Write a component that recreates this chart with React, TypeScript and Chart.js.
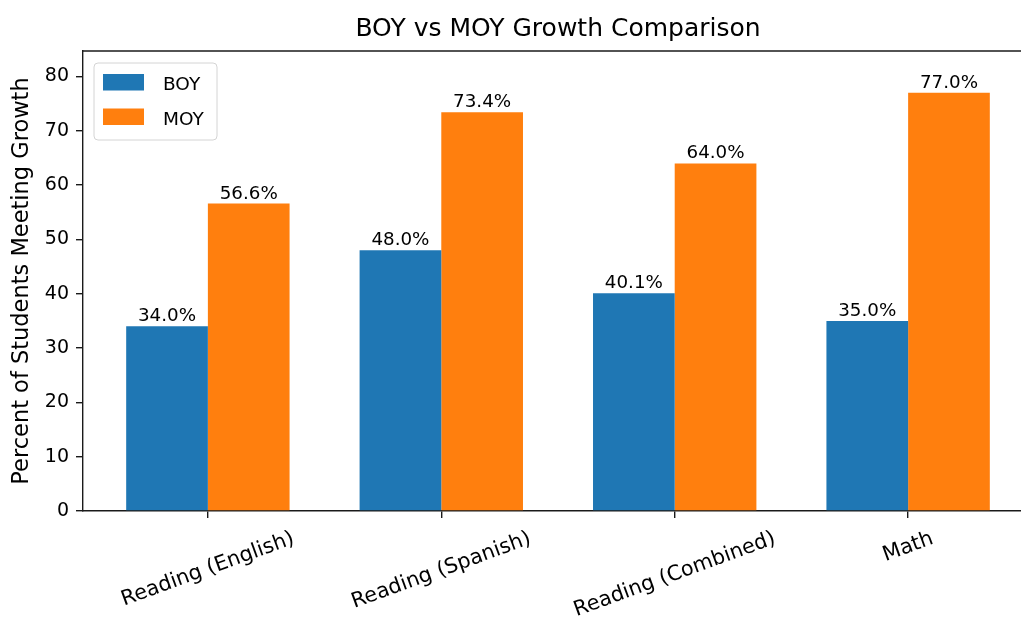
import React, { useEffect, useRef } from 'react';
import { Chart, registerables } from 'chart.js';

Chart.register(...registerables);

const categories = ['Reading (English)', 'Reading (Spanish)', 'Reading (Combined)', 'Math'];
const boyValues = [34.0, 48.0, 40.1, 35.0];
const moyValues = [56.6, 73.4, 64.0, 77.0];
const yTickValues = [0, 10, 20, 30, 40, 50, 60, 70, 80];
const seriesLabels = ['BOY', 'MOY'];
const seriesColors = ['#1f77b4', '#ff7f0e'];
const titleText = 'BOY vs MOY Growth Comparison';
const yAxisTitle = 'Percent of Students Meeting Growth';

const FONT = '"DejaVu Sans", sans-serif';
const CW = 1060;
const CH = 624;
const PLOT_LEFT = 83;
const PLOT_TOP = 51;
const PLOT_RIGHT = 1033;
const PLOT_BOTTOM = 511;
const SPINE = '#1a1a1a';

const decorPlugin = {
  id: 'decor',
  afterDraw(chart: any) {
    const ctx = chart.ctx;
    const area = chart.chartArea;
    const xs = chart.scales.x;
    ctx.save();
    // top spine
    ctx.strokeStyle = SPINE;
    ctx.lineWidth = 1.4;
    ctx.beginPath();
    ctx.moveTo(area.left - 0.7, area.top);
    ctx.lineTo(area.right + 0.7, area.top);
    ctx.stroke();

    ctx.fillStyle = '#000';
    // title
    ctx.font = `25px ${FONT}`;
    ctx.textAlign = 'center';
    ctx.textBaseline = 'alphabetic';
    ctx.fillText(titleText, (area.left + area.right) / 2, 36);

    // y axis title
    ctx.save();
    ctx.font = `22.5px ${FONT}`;
    ctx.translate(28, (area.top + area.bottom) / 2);
    ctx.rotate(-Math.PI / 2);
    ctx.textAlign = 'center';
    ctx.textBaseline = 'alphabetic';
    ctx.fillText(yAxisTitle, 0, 0);
    ctx.restore();

    // x tick labels rotated 20deg, bbox centered under tick
    const fs = 20.8;
    ctx.font = `${fs}px ${FONT}`;
    const ang = (20 * Math.PI) / 180;
    categories.forEach((lab, i) => {
      const x = xs.getPixelForValue(i);
      const w = ctx.measureText(lab).width;
      const h = fs * 1.05;
      const ext = w * Math.sin(ang) + h * Math.cos(ang);
      const cy = area.bottom + 17 + ext / 2;
      ctx.save();
      ctx.translate(x, cy);
      ctx.rotate(-ang);
      ctx.textAlign = 'center';
      ctx.textBaseline = 'middle';
      ctx.fillText(lab, 0, 0);
      ctx.restore();
    });

    // bar value labels
    ctx.font = `18.3px ${FONT}`;
    ctx.textAlign = 'center';
    ctx.textBaseline = 'alphabetic';
    chart.data.datasets.forEach((ds: any, di: number) => {
      const meta = chart.getDatasetMeta(di);
      meta.data.forEach((bar: any, i: number) => {
        const v = ds.data[i].y;
        ctx.fillText(v.toFixed(1) + '%', bar.x, bar.y - 5);
      });
    });

    // legend
    const lx = 94, ly = 63, lw = 123, lh = 77, r = 4;
    ctx.beginPath();
    ctx.moveTo(lx + r, ly);
    ctx.lineTo(lx + lw - r, ly);
    ctx.quadraticCurveTo(lx + lw, ly, lx + lw, ly + r);
    ctx.lineTo(lx + lw, ly + lh - r);
    ctx.quadraticCurveTo(lx + lw, ly + lh, lx + lw - r, ly + lh);
    ctx.lineTo(lx + r, ly + lh);
    ctx.quadraticCurveTo(lx, ly + lh, lx, ly + lh - r);
    ctx.lineTo(lx, ly + r);
    ctx.quadraticCurveTo(lx, ly, lx + r, ly);
    ctx.closePath();
    ctx.fillStyle = 'rgba(255,255,255,0.8)';
    ctx.fill();
    ctx.strokeStyle = '#d4d4d4';
    ctx.lineWidth = 1;
    ctx.stroke();
    const rows = [74, 108.5];
    const baselines = [89.5, 124.5];
    chart.data.datasets.forEach((ds: any, di: number) => {
      ctx.fillStyle = ds.backgroundColor;
      ctx.fillRect(103, rows[di], 41, 16.5);
      ctx.fillStyle = '#000';
      ctx.font = `18.5px ${FONT}`;
      ctx.textAlign = 'left';
      ctx.textBaseline = 'alphabetic';
      ctx.fillText(ds.label, 163, baselines[di]);
    });
    ctx.restore();
  },
};

export default function App() {
  const ref = useRef<HTMLCanvasElement | null>(null);

  useEffect(() => {
    if (!ref.current) return;
    const chart = new Chart(ref.current, {
      type: 'bar',
      data: {
        datasets: [
          {
            label: seriesLabels[0],
            data: boyValues.map((v, i) => ({ x: i, y: v })),
            backgroundColor: seriesColors[0],
            borderWidth: 0,
          },
          {
            label: seriesLabels[1],
            data: moyValues.map((v, i) => ({ x: i, y: v })),
            backgroundColor: seriesColors[1],
            borderWidth: 0,
          },
        ],
      },
      options: {
        animation: false,
        responsive: false,
        maintainAspectRatio: false,
        devicePixelRatio: 1,
        layout: {
          padding: { left: 0, top: PLOT_TOP, right: CW - PLOT_RIGHT, bottom: 0 },
        },
        datasets: {
          bar: { categoryPercentage: 0.7, barPercentage: 1.0 },
        },
        plugins: {
          legend: { display: false },
          title: { display: false },
          tooltip: { enabled: false },
        },
        scales: {
          x: {
            type: 'linear',
            offset: false,
            min: -0.535,
            max: 3.535,
            afterBuildTicks: (s: any) => {
              s.ticks = categories.map((_, i) => ({ value: i }));
            },
            afterFit: (s: any) => {
              s.height = CH - PLOT_BOTTOM;
            },
            ticks: {
              autoSkip: false,
              maxRotation: 0,
              minRotation: 0,
              callback: () => '',
            },
            grid: {
              offset: false,
              drawOnChartArea: false,
              drawTicks: true,
              tickLength: 7,
              color: SPINE,
              lineWidth: 1.4,
            },
            border: { display: true, color: SPINE, width: 1.4 },
          },
          y: {
            type: 'linear',
            min: 0,
            max: 84.7,
            afterBuildTicks: (s: any) => {
              s.ticks = yTickValues.map((v) => ({ value: v }));
            },
            afterFit: (s: any) => {
              s.width = PLOT_LEFT;
            },
            ticks: {
              font: { family: FONT, size: 19 },
              color: '#000',
              padding: 7,
              callback: (v: any) => String(v),
            },
            grid: {
              drawOnChartArea: false,
              drawTicks: true,
              tickLength: 7,
              color: SPINE,
              lineWidth: 1.4,
            },
            border: { display: true, color: SPINE, width: 1.4 },
          },
        },
      },
      plugins: [decorPlugin],
    } as any);
    return () => chart.destroy();
  }, []);

  return (
    <div
      style={{
        position: 'fixed',
        left: 0,
        top: 0,
        width: 1021,
        height: 624,
        overflow: 'hidden',
        background: '#fff',
      }}
    >
      <canvas ref={ref} width={CW} height={CH} style={{ display: 'block', width: CW, height: CH }} />
    </div>
  );
}
